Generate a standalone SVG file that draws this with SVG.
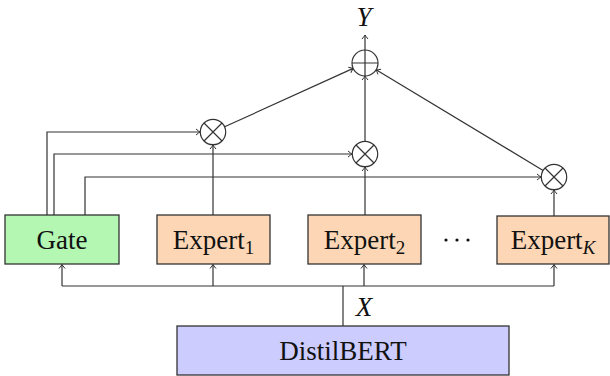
<svg xmlns="http://www.w3.org/2000/svg" width="610" height="376" viewBox="0 0 610 376">
<defs>
<style>
.box{stroke:#333;stroke-width:1.3}
.gate{fill:#b3f7b3}
.exp{fill:#fdd7b5}
.bert{fill:#ccccff}
.lbl{font-family:'Liberation Serif','Times New Roman',serif;font-size:27px;fill:#111;text-anchor:middle}
.sub{font-size:19px}
.math{font-family:'Liberation Serif','Times New Roman',serif;font-style:italic;font-size:27px;fill:#111;text-anchor:middle}
.ln{fill:none;stroke:#333;stroke-width:1.2}
.op{fill:#fff;stroke:#333;stroke-width:1.2}
</style>
<marker id="ah" viewBox="-5 -4 6 8" markerWidth="6" markerHeight="8" refX="0" refY="0" orient="auto" markerUnits="userSpaceOnUse">
<path d="M-4,-3 Q-1,-0.5 0,0 Q-1,0.5 -4,3" fill="none" stroke="#333" stroke-width="1"/>
</marker>
</defs>
<g id="connectors">
<path class="ln" d="M343,326 V286"/>
<path class="ln" d="M62,286 H554"/>
<path class="ln" d="M62,286 V264.5" marker-end="url(#ah)"/>
<path class="ln" d="M213,286 V264.5" marker-end="url(#ah)"/>
<path class="ln" d="M364,286 V264.5" marker-end="url(#ah)"/>
<path class="ln" d="M554,286 V264.5" marker-end="url(#ah)"/>
<path class="ln" d="M47,215 V132 H200" marker-end="url(#ah)"/>
<path class="ln" d="M54,215 V154 H352" marker-end="url(#ah)"/>
<path class="ln" d="M85,215 V177 H541" marker-end="url(#ah)"/>
<path class="ln" d="M213,215 V145" marker-end="url(#ah)"/>
<path class="ln" d="M365,215 V167" marker-end="url(#ah)"/>
<path class="ln" d="M554,216 V190" marker-end="url(#ah)"/>
<path class="ln" d="M224.6,126.8 L353.2,68.4" marker-end="url(#ah)"/>
<path class="ln" d="M365,141 V76" marker-end="url(#ah)"/>
<path class="ln" d="M543.1,170.4 L376.1,69.7" marker-end="url(#ah)"/>
<path class="ln" d="M365,50 V35" marker-end="url(#ah)"/>
</g>
<g id="gate">
<rect class="box gate" x="5" y="215" width="114" height="49"/>
<text class="lbl" x="62" y="249" font-family="Liberation Serif, serif">Gate</text>
</g>
<g id="expert1">
<rect class="box exp" x="157" y="215" width="113" height="49"/>
<text class="lbl" x="213.5" y="249" font-family="Liberation Serif, serif">Expert<tspan class="sub" dy="5">1</tspan></text>
</g>
<g id="expert2">
<rect class="box exp" x="308" y="215" width="113" height="49"/>
<text class="lbl" x="364.5" y="249" font-family="Liberation Serif, serif">Expert<tspan class="sub" dy="5">2</tspan></text>
</g>
<g id="dots">
<circle cx="446" cy="240" r="1.6" fill="#111"/>
<circle cx="457" cy="240" r="1.6" fill="#111"/>
<circle cx="468" cy="240" r="1.6" fill="#111"/>
</g>
<g id="expertK">
<rect class="box exp" x="497" y="216" width="112" height="48"/>
<text class="lbl" x="553" y="249" font-family="Liberation Serif, serif">Expert<tspan class="sub" font-style="italic" dy="5">K</tspan></text>
</g>
<g id="distilbert">
<rect class="box bert" x="177" y="326" width="332" height="49"/>
<text class="lbl" x="343" y="360" font-family="Liberation Serif, serif">DistilBERT</text>
</g>
<g id="mult1">
<circle class="op" cx="213" cy="132" r="12.7"/>
<path class="ln" d="M204,123 L222,141 M222,123 L204,141"/>
</g>
<g id="mult2">
<circle class="op" cx="365" cy="154" r="12.7"/>
<path class="ln" d="M356,145 L374,163 M374,145 L356,163"/>
</g>
<g id="mult3">
<circle class="op" cx="554" cy="177" r="12.7"/>
<path class="ln" d="M545,168 L563,186 M563,168 L545,186"/>
</g>
<g id="plus">
<circle class="op" cx="365" cy="63" r="13"/>
<path class="ln" d="M352,63 H378 M365,50 V76"/>
</g>
<g id="labels">
<text class="math" x="364" y="26" font-family="Liberation Serif, serif">Y</text>
<text class="math" x="364" y="316" font-family="Liberation Serif, serif">X</text>
</g>
</svg>
